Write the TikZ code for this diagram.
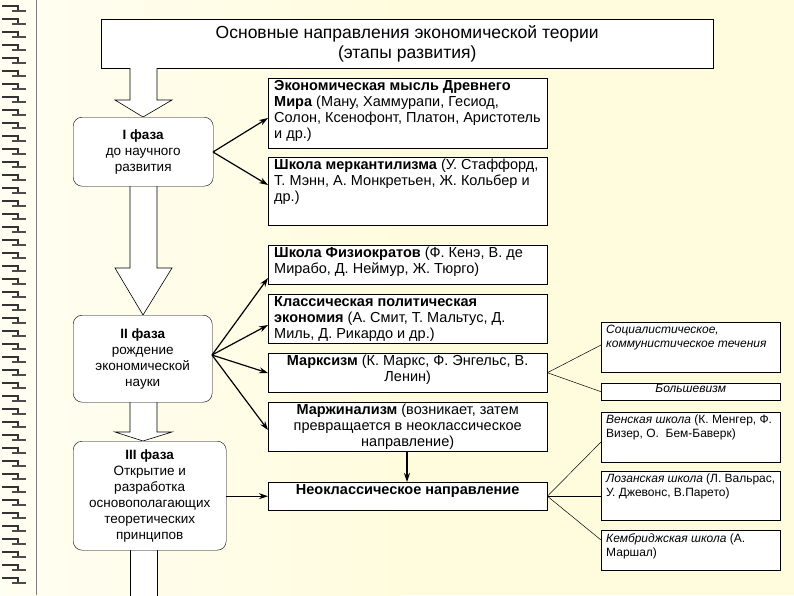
\documentclass[tikz,border=0pt]{standalone}
\usepackage{fontspec}
\setmainfont{Liberation Sans}
\usetikzlibrary{arrows.meta}
\definecolor{bg}{RGB}{255,252,222}
\newcommand{\tb}[3]{\parbox[c][#1][t]{#2}{\raggedright #3}}
\tikzset{
  x=1pt,y=-1pt,
  phase/.style={draw,rounded corners=9pt,fill=white,align=center,inner sep=0pt,font=\fontsize{13.5}{16}\selectfont},
  rbox/.style={draw,fill=white,anchor=north west,inner xsep=6pt,inner ysep=2pt,font=\fontsize{14.5}{16}\selectfont},
  sbox/.style={draw,fill=white,anchor=north west,inner xsep=5pt,inner ysep=3pt,font=\fontsize{12}{14}\selectfont},
  arr/.style={-{Stealth[length=9pt,width=6pt]},line width=1.2pt},
  thin/.style={line width=0.5pt},
  hollow/.style={draw,fill=white,line width=0.6pt}
}
\begin{document}
\begin{tikzpicture}
\useasboundingbox (0,0) rectangle (794,595);
\shade[left color=white!60!bg,right color=bg] (0,0) rectangle (400,595);
\fill[bg] (399,0) rectangle (794,595);
\draw[gray,line width=0.8pt] (36,0) -- (36,595);
\foreach \y in {6,19,...,590}{
  \draw[black!80,line width=2.4pt] (2,\y) -- (18,\y) -- (18,\y+5);
  \draw[black!70,line width=1.6pt] (12,\y+5) -- (26,\y+5);
}
% title
\node[draw,fill=white,minimum width=612pt,minimum height=49pt,anchor=north west,inner sep=0pt,align=center,font=\fontsize{17.5}{20}\selectfont] (title) at (101,19) {Основные направления экономической теории\\(этапы развития)};
% hollow arrows
\draw[hollow] (130,68) -- (130,100) -- (115,100) -- (143,117) -- (172,100) -- (157,100) -- (157,68);
\draw[hollow] (130,186) -- (130,268) -- (115,268) -- (143,315) -- (172,268) -- (157,268) -- (157,186);
\draw[hollow] (130,402) -- (130,432) -- (115,432) -- (143,441) -- (172,432) -- (157,432) -- (157,402);
\fill[white] (130,550) rectangle (157,600);
\draw[line width=0.6pt] (130,550) -- (130,600) (157,550) -- (157,600);
% phases
\node[phase,minimum width=140pt,minimum height=69pt,anchor=north west] (p1) at (73,117) {\textbf{I фаза}\\до научного\\развития};
\node[phase,minimum width=139pt,minimum height=87pt,anchor=north west] (p2) at (73,315) {\textbf{II фаза}\\рождение\\экономической\\науки};
\node[phase,minimum width=153pt,minimum height=109pt,anchor=north west] (p3) at (73,441) {\textbf{III фаза}\\Открытие и\\разработка\\основополагающих\\теоретических\\принципов};
% right boxes
\node[rbox] (b1) at (268,78) {\tb{66pt}{267pt}{\textbf{Экономическая мысль Древнего Мира} (Ману, Хаммурапи, Гесиод, Солон, Ксенофонт, Платон, Аристотель и~др.)}};
\node[rbox] (b2) at (268,157) {\tb{64pt}{267pt}{\textbf{Школа меркантилизма} (У. Стаффорд, Т. Мэнн, А. Монкретьен, Ж. Кольбер и др.)}};
\node[rbox] (b3) at (268,245) {\tb{35pt}{267pt}{\textbf{Школа Физиократов} (Ф. Кенэ, В. де Мирабо, Д. Неймур, Ж. Тюрго)}};
\node[rbox] (b4) at (268,294) {\tb{45pt}{267pt}{\textbf{Классическая политическая экономия} (А. Смит, Т. Мальтус, Д. Миль, Д. Рикардо и др.)}};
\node[rbox] (b5) at (268,353) {\tb{35pt}{267pt}{\centering\textbf{Марксизм} (К. Маркс, Ф. Энгельс, В. Ленин)}};
\node[rbox] (b6) at (268,402) {\tb{45pt}{267pt}{\centering\textbf{Маржинализм} (возникает, затем превращается в неоклассическое направление)}};
\node[rbox] (b7) at (268,482) {\tb{24pt}{267pt}{\centering\textbf{Неоклассическое направление}}};
% far right
\node[sbox] (s1) at (601,322) {\tb{44pt}{169pt}{\textit{Социалистическое, коммунистическое течения}}};
\node[sbox,inner ysep=1pt] (s2) at (601,383) {\tb{15pt}{169pt}{\centering\textit{Большевизм}}};
\node[sbox] (s3) at (601,412) {\tb{44pt}{169pt}{\textit{Венская школа} (К. Менгер, Ф. Визер, О.\ \ Бем-Баверк)}};
\node[sbox] (s4) at (601,471) {\tb{43pt}{169pt}{\textit{Лозанская школа} (Л. Вальрас, У. Джевонс, В.Парето)}};
\node[sbox] (s5) at (601,530) {\tb{34pt}{169pt}{\textit{Кембриджская школа} (А. Маршал)}};
% connectors
\coordinate (p1r) at (213,152);
\draw[arr] (p1r) -- (b1.west |- 0,118);
\draw[arr] (p1r) -- (b2.west |- 0,185);
\coordinate (p2r) at (212,355);
\draw[arr] (p2r) -- (b3.west |- 0,278);
\draw[arr] (p2r) -- (b4.west |- 0,325);
\draw[arr] (p2r) -- (b5.west |- 0,373);
\draw[arr] (p2r) -- (b6.west |- 0,430);
\draw[arr] (p3.east |- b7.west) -- (b7.west);
\draw[arr] (b6.south -| 407,0) -- (b7.north -| 407,0);
\draw[thin] (b5.east) -- (s1.west |- 0,345);
\draw[thin] (b5.east) -- (s2.west);
\draw[thin] (b7.east) -- (s3.west |- 0,442);
\draw[thin] (b7.east) -- (s4.west |- b7.east);
\draw[thin] (b7.east) -- (s5.west |- 0,540);
\end{tikzpicture}
\end{document}
